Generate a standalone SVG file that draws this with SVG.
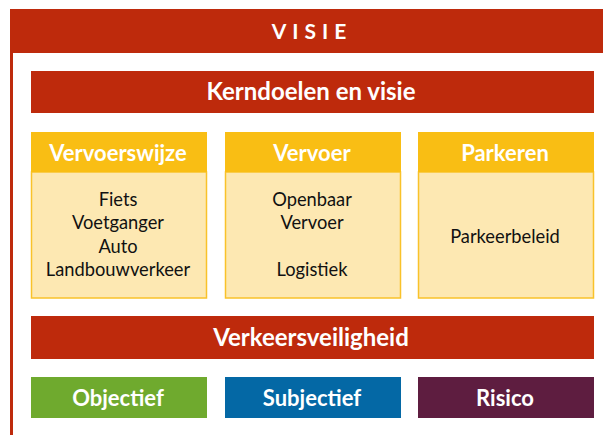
<svg xmlns="http://www.w3.org/2000/svg" width="603" height="435" viewBox="0 0 603 435">
<style>
.red{fill:#BE2A0C}
.hd{fill:#F9BE14}
.bd{fill:#FDE8B2;stroke:#F9C22A;stroke-width:1.5}
.wt{font-family:Lato,"Liberation Sans",sans-serif;font-weight:bold;fill:#fff;text-anchor:middle}
.bt{font-family:Lato,"Liberation Sans",sans-serif;font-size:18.3px;fill:#111;text-anchor:middle}
</style>
<rect width="603" height="435" fill="#fff"/>
<g id="visie">
<rect x="10" y="9" width="593" height="44" class="red"/>
<rect x="10" y="53" width="3" height="382" class="red"/>
<text x="312" y="39" class="wt" font-size="21" letter-spacing="6">VISIE</text>
</g>
<g id="kerndoelen">
<rect x="31" y="71" width="563" height="42" class="red"/>
<text x="311" y="100" class="wt" font-size="24">Kerndoelen en visie</text>
</g>
<g id="vervoerswijze">
<rect x="31.5" y="172" width="175" height="126" class="bd"/>
<rect x="31" y="132" width="176" height="40" class="hd"/>
<text x="118" y="161" class="wt" font-size="22">Vervoerswijze</text>
<text x="118" y="206" class="bt">Fiets</text>
<text x="118" y="229" class="bt">Voetganger</text>
<text x="118" y="253" class="bt">Auto</text>
<text x="118" y="276" class="bt">Landbouwverkeer</text>
</g>
<g id="vervoer">
<rect x="225.5" y="172" width="175" height="126" class="bd"/>
<rect x="225" y="132" width="176" height="40" class="hd"/>
<text x="312" y="161" class="wt" font-size="22">Vervoer</text>
<text x="312" y="206" class="bt">Openbaar</text>
<text x="312" y="229" class="bt">Vervoer</text>
<text x="312" y="276" class="bt">Logistiek</text>
</g>
<g id="parkeren">
<rect x="418.5" y="172" width="175" height="126" class="bd"/>
<rect x="418" y="132" width="176" height="40" class="hd"/>
<text x="505" y="161" class="wt" font-size="22">Parkeren</text>
<text x="505" y="243" class="bt">Parkeerbeleid</text>
</g>
<g id="verkeersveiligheid">
<rect x="31" y="316" width="563" height="43" class="red"/>
<text x="311" y="346" class="wt" font-size="24">Verkeersveiligheid</text>
</g>
<g id="objectief">
<rect x="31" y="377" width="176" height="41" fill="#6FAA2E"/>
<text x="118" y="406" class="wt" font-size="22">Objectief</text>
</g>
<g id="subjectief">
<rect x="225" y="377" width="176" height="41" fill="#0468A5"/>
<text x="312" y="406" class="wt" font-size="22">Subjectief</text>
</g>
<g id="risico">
<rect x="418" y="377" width="176" height="41" fill="#5E1D40"/>
<text x="505" y="406" class="wt" font-size="22">Risico</text>
</g>
<g id="connectors"/>
</svg>
